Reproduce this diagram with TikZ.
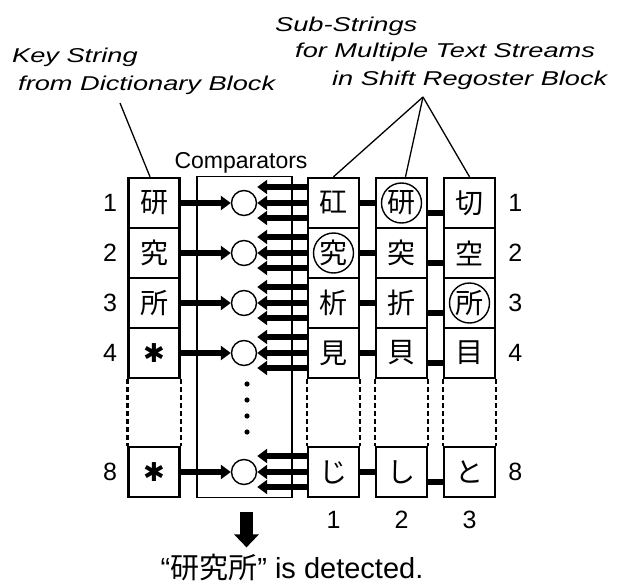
\documentclass[tikz,border=0pt]{standalone}
\usepackage{fontspec}
\setmainfont{Liberation Sans}
\newfontfamily\cjk{Noto Sans CJK JP}
\newfontfamily\symb{DejaVu Sans}
\usetikzlibrary{arrows.meta,positioning}
\newcommand{\widetxt}[1]{\scalebox{1.36}[1]{#1}}
\newcommand{\wild}{{\symb\fontsize{26}{26}\selectfont ✱}}

\tikzset{
  cell/.style={draw, line width=2.4pt, minimum width=51pt, minimum height=50pt, inner sep=0pt, font=\cjk\fontsize{28}{28}\selectfont},
  cmp/.style={circle, draw, line width=1.4pt, minimum size=25pt, inner sep=0pt},
  hit/.style={circle, draw, line width=1.4pt, minimum size=40pt, inner sep=0pt},
  num/.style={font=\fontsize{25}{25}\selectfont, inner sep=0pt},
  lbl/.style={font=\itshape\fontsize{20}{24}\selectfont, inner sep=0pt, anchor=base west},
  feed/.style={->, line width=5.5pt},
  bus/.style={line width=6pt},
}

\begin{document}
\begin{tikzpicture}[x=1pt, y=-1pt, >={Triangle[length=10pt,width=14pt]}]
  \useasboundingbox (0,0) rectangle (621,586);
  % comparator block
  \node[draw, line width=1.8pt, minimum width=95pt, minimum height=321pt, inner sep=0pt] (cmpbox) at (244.5,337) {};
  \node[font=\fontsize{23}{23}\selectfont, anchor=base, inner sep=0pt] (cmplbl) at (241,168) {Comparators};
  % key string column
  \foreach \r/\y/\ch in {1/203/研, 2/253/究, 3/303/所, 4/353/\wild, 8/472/\wild}
    \node[cell] (k\r) at (154,\y) {\ch};
  % sub-string columns
  \foreach \r/\y/\a/\b/\c in {1/203/矼/研/切, 2/253/究/突/空, 3/303/析/折/所, 4/353/見/貝/目, 8/472/じ/し/と} {
    \node[cell] (s1-\r) at (333.5,\y) {\a};
    \node[cell] (s2-\r) at (401.5,\y) {\b};
    \node[cell] (s3-\r) at (469.5,\y) {\c};
  }
  \foreach \n in {k, s1-, s2-, s3-} {
    \draw[line width=2.4pt, dash pattern=on 5pt off 3pt] (\n4.south west) -- (\n8.north west);
    \draw[line width=2.4pt, dash pattern=on 5pt off 3pt] (\n4.south east) -- (\n8.north east);
  }
  % matched characters
  \node[hit] (hit1) at (s2-1) {};
  \node[hit] (hit2) at (s1-2) {};
  \node[hit] (hit3) at (s3-3) {};
  % comparators and feeds
  \foreach \r/\y in {1/203, 2/253, 3/303, 4/353, 8/472} {
    \node[cmp] (cmp\r) at (244,\y) {};
    \draw[feed] (k\r) -- (cmp\r);
    \draw[feed] ([yshift=16pt]s1-\r.west) -- ([yshift=16pt]cmp\r.east);
    \draw[feed] (s1-\r.west) -- (cmp\r.east);
    \draw[feed] ([yshift=-15pt]s1-\r.west) -- ([yshift=-15pt]cmp\r.east);
    \draw[bus] (s1-\r.east) -- (s2-\r.west);
    \draw[bus] ([yshift=-10pt]s2-\r.east) -- ([yshift=-10pt]s3-\r.west);
    \node[num, left=10pt of k\r] (ln\r) {\r};
    \node[num, right=12pt of s3-\r] (rn\r) {\r};
  }
  \foreach \i in {0,...,3}
    \fill (247,{384+16*\i}) circle (2.6pt);
  \foreach \i in {1,2,3}
    \node[num, below=13pt of s\i-8] (bn\i) {\i};
  % labels
  \node[lbl] (ks1) at (12,63) {\widetxt{Key String}};
  \node[lbl] (ks2) at (18,90) {\widetxt{from Dictionary Block}};
  \node[lbl] (ss1) at (275,32) {\widetxt{Sub-Strings}};
  \node[lbl] (ss2) at (295,58) {\widetxt{for Multiple Text Streams}};
  \node[lbl] (ss3) at (332,85) {\widetxt{in Shift Regoster Block}};
  \coordinate (kp) at (120,103);
  \coordinate (sp) at (423,97);
  \draw[line width=1.3pt] (kp) -- ([xshift=-4pt]k1.north);
  \draw[line width=1.3pt] (sp) -- (s1-1.north);
  \draw[line width=1.3pt] (sp) -- ([xshift=4pt]s2-1.north);
  \draw[line width=1.3pt] (sp) -- (s3-1.north);
  % result
  \node[font=\fontsize{29}{29}\selectfont, anchor=base, inner sep=0pt] (det) at (292,578) {“{\cjk 研究所}” is detected.};
  \coordinate (dtop) at (cmpbox.south |- det.north);
  \draw[->, line width=13pt, >={Triangle[length=13pt,width=24pt]}] ([xshift=2pt,yshift=-14pt]cmpbox.south) -- ([xshift=2pt,yshift=6pt]dtop);
\end{tikzpicture}
\end{document}
